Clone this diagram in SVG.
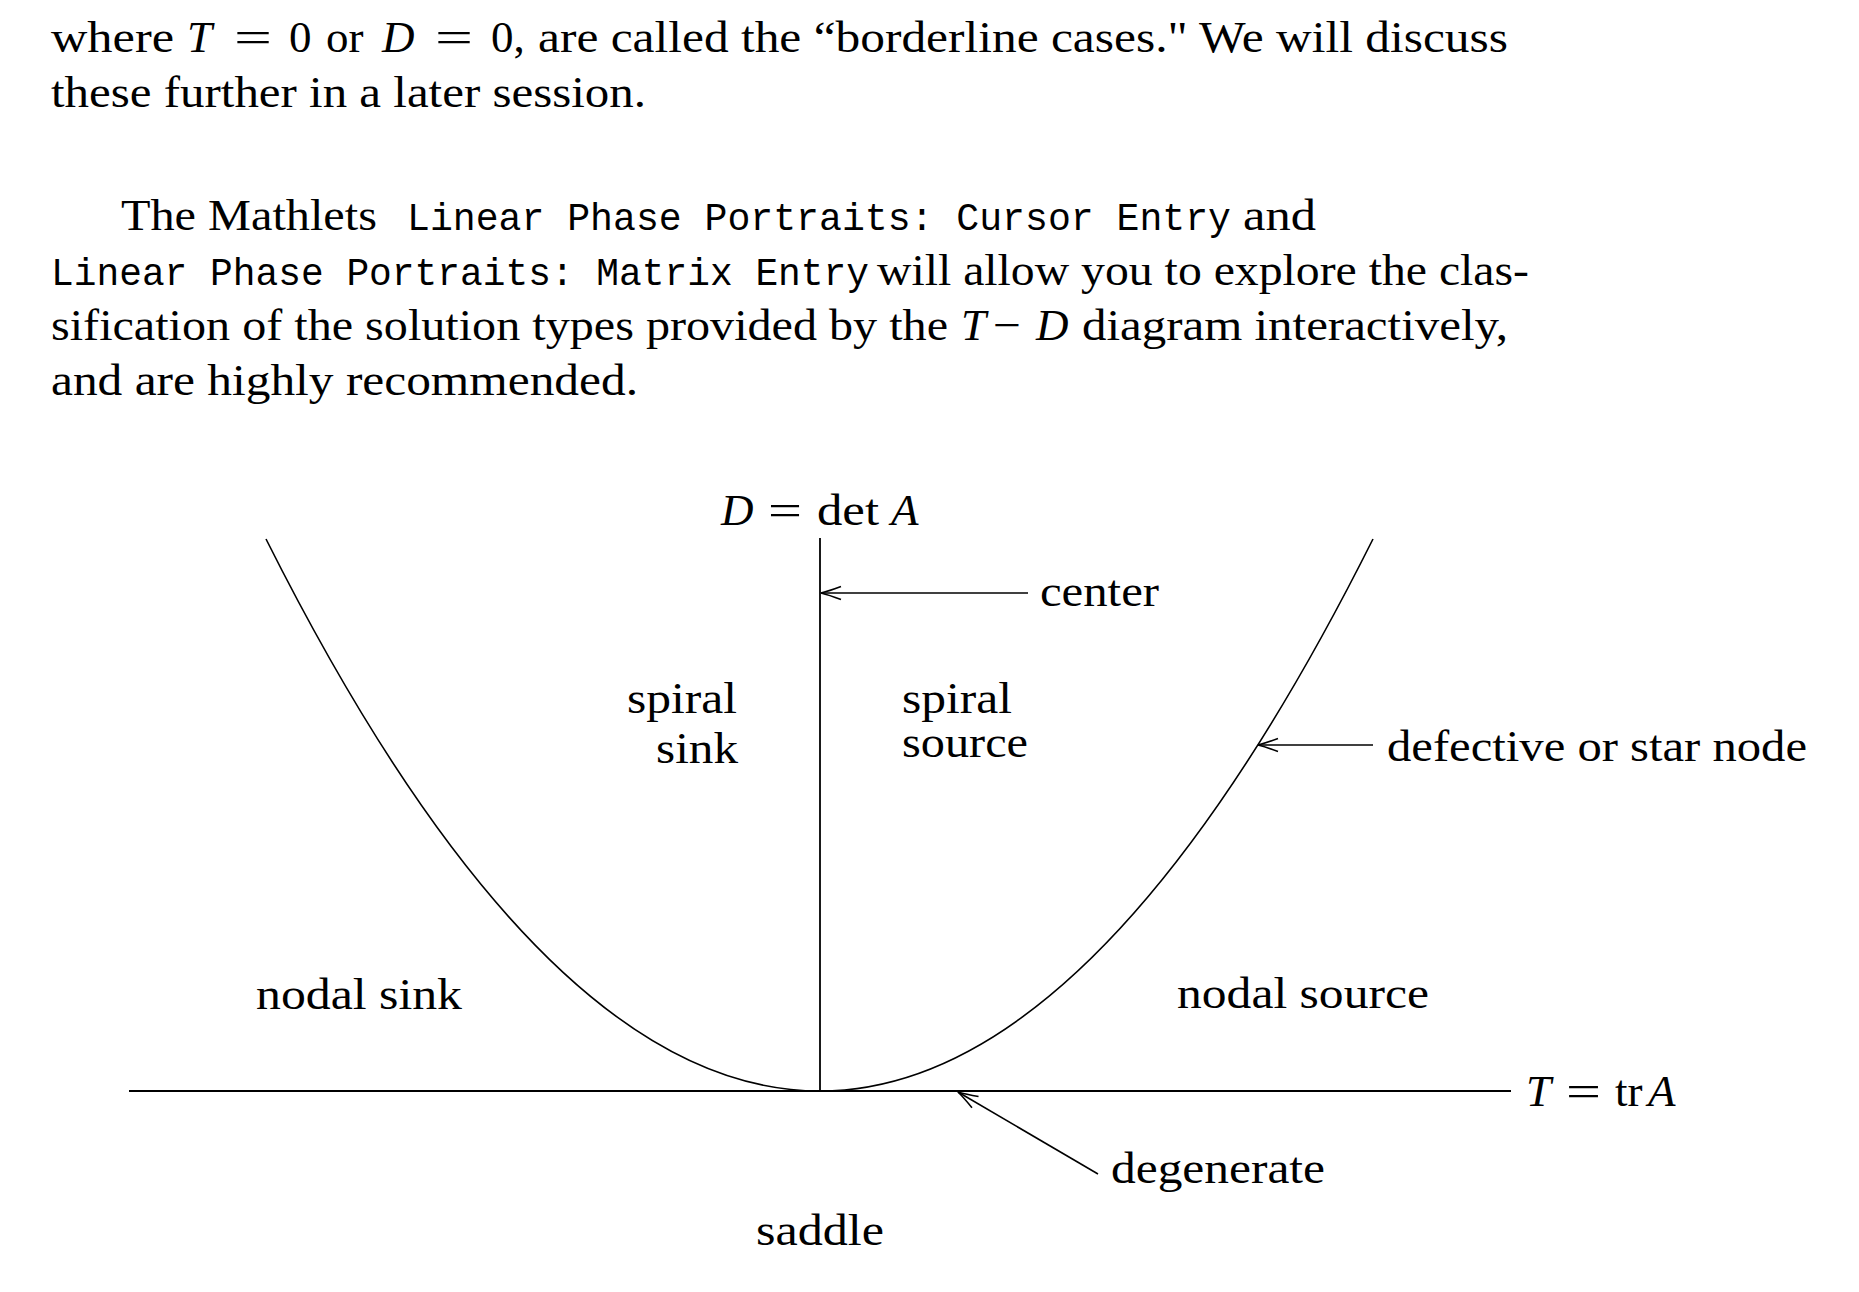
<svg xmlns="http://www.w3.org/2000/svg" width="1859" height="1292" viewBox="0 0 1859 1292">
<style>
text{font-family:"Liberation Serif","Times New Roman",serif;font-size:45px;fill:#000}
.body{font-size:44px}
.mono{font-family:"Liberation Mono","Courier New",monospace;font-size:38px}
.it{font-style:italic}
.ax{stroke:#000;stroke-width:1.8;fill:none}
.cv{stroke:#000;stroke-width:1.6;fill:none}
.ar{stroke:#000;stroke-width:1.6;fill:none;marker-end:url(#open)}
</style>
<defs>
<marker id="open" markerUnits="userSpaceOnUse" markerWidth="30" markerHeight="20" viewBox="-22 -10 24 20" refX="0" refY="0" orient="auto">
<path d="M-20,-6.5 Q-8,-2 0,0 Q-8,2 -20,6.5" fill="none" stroke="#000" stroke-width="1.6"/>
</marker>
</defs>
<rect width="1859" height="1292" fill="#fff"/>
<g id="paragraph1" class="body">
<text x="51" y="52" textLength="123" lengthAdjust="spacingAndGlyphs">where</text>
<text x="187" y="52" class="it">T</text>
<text x="234" y="52" textLength="38" lengthAdjust="spacingAndGlyphs">=</text>
<text x="289" y="52">0</text>
<text x="326" y="52">or</text>
<text x="382" y="52" class="it">D</text>
<text x="435" y="52" textLength="38" lengthAdjust="spacingAndGlyphs">=</text>
<text x="491" y="52">0,</text>
<text x="538" y="52" textLength="970" lengthAdjust="spacingAndGlyphs">are called the “borderline cases." We will discuss</text>
<text x="51" y="107" textLength="595" lengthAdjust="spacingAndGlyphs">these further in a later session.</text>
</g>
<g id="paragraph2" class="body">
<text x="121" y="230" textLength="256" lengthAdjust="spacingAndGlyphs">The Mathlets</text>
<text x="407" y="230" class="mono" textLength="824" lengthAdjust="spacingAndGlyphs">Linear Phase Portraits: Cursor Entry</text>
<text x="1243" y="230" textLength="73" lengthAdjust="spacingAndGlyphs">and</text>
<text x="51" y="285" class="mono" textLength="818" lengthAdjust="spacingAndGlyphs">Linear Phase Portraits: Matrix Entry</text>
<text x="877" y="285" textLength="652" lengthAdjust="spacingAndGlyphs">will allow you to explore the clas-</text>
<text x="51" y="340" textLength="897" lengthAdjust="spacingAndGlyphs">sification of the solution types provided by the</text>
<text x="961" y="340" class="it">T</text>
<text x="993" y="340" textLength="28" lengthAdjust="spacingAndGlyphs">−</text>
<text x="1036" y="340" class="it">D</text>
<text x="1082" y="340" textLength="426" lengthAdjust="spacingAndGlyphs">diagram interactively,</text>
<text x="51" y="395" textLength="587" lengthAdjust="spacingAndGlyphs">and are highly recommended.</text>
</g>
<g id="axes">
<line class="ax" x1="129" y1="1091" x2="1511" y2="1091"/>
<line class="ax" x1="820" y1="538" x2="820" y2="1091"/>
<path class="cv" d="M266,539 Q820,1643 1373,539"/>
</g>
<g id="connectors">
<line class="ar" x1="1028" y1="593" x2="821" y2="593"/>
<line class="ar" x1="1373" y1="745" x2="1258" y2="745"/>
<line class="ar" x1="1098" y1="1174" x2="958" y2="1092"/>
</g>
<g id="label-D-axis">
<text x="721" y="525" class="it">D</text>
<text x="768" y="525" textLength="34" lengthAdjust="spacingAndGlyphs">=</text>
<text x="817" y="525" textLength="62" lengthAdjust="spacingAndGlyphs">det</text>
<text x="891" y="525" class="it">A</text>
</g>
<g id="label-T-axis">
<text x="1526" y="1106" class="it">T</text>
<text x="1566" y="1106" textLength="35" lengthAdjust="spacingAndGlyphs">=</text>
<text x="1615" y="1106">tr</text>
<text x="1648" y="1106" class="it">A</text>
</g>
<g id="node-center"><text x="1040" y="606" textLength="119" lengthAdjust="spacingAndGlyphs">center</text></g>
<g id="node-spiral-sink">
<text x="627" y="713" textLength="110" lengthAdjust="spacingAndGlyphs">spiral</text>
<text x="656" y="763" textLength="82" lengthAdjust="spacingAndGlyphs">sink</text>
</g>
<g id="node-spiral-source">
<text x="902" y="713" textLength="110" lengthAdjust="spacingAndGlyphs">spiral</text>
<text x="902" y="757" textLength="126" lengthAdjust="spacingAndGlyphs">source</text>
</g>
<g id="node-defective"><text x="1387" y="761" textLength="420" lengthAdjust="spacingAndGlyphs">defective or star node</text></g>
<g id="node-nodal-sink"><text x="256" y="1009" textLength="206" lengthAdjust="spacingAndGlyphs">nodal sink</text></g>
<g id="node-nodal-source"><text x="1177" y="1008" textLength="252" lengthAdjust="spacingAndGlyphs">nodal source</text></g>
<g id="node-degenerate"><text x="1111" y="1183" textLength="214" lengthAdjust="spacingAndGlyphs">degenerate</text></g>
<g id="node-saddle"><text x="756" y="1245" textLength="128" lengthAdjust="spacingAndGlyphs">saddle</text></g>
</svg>
